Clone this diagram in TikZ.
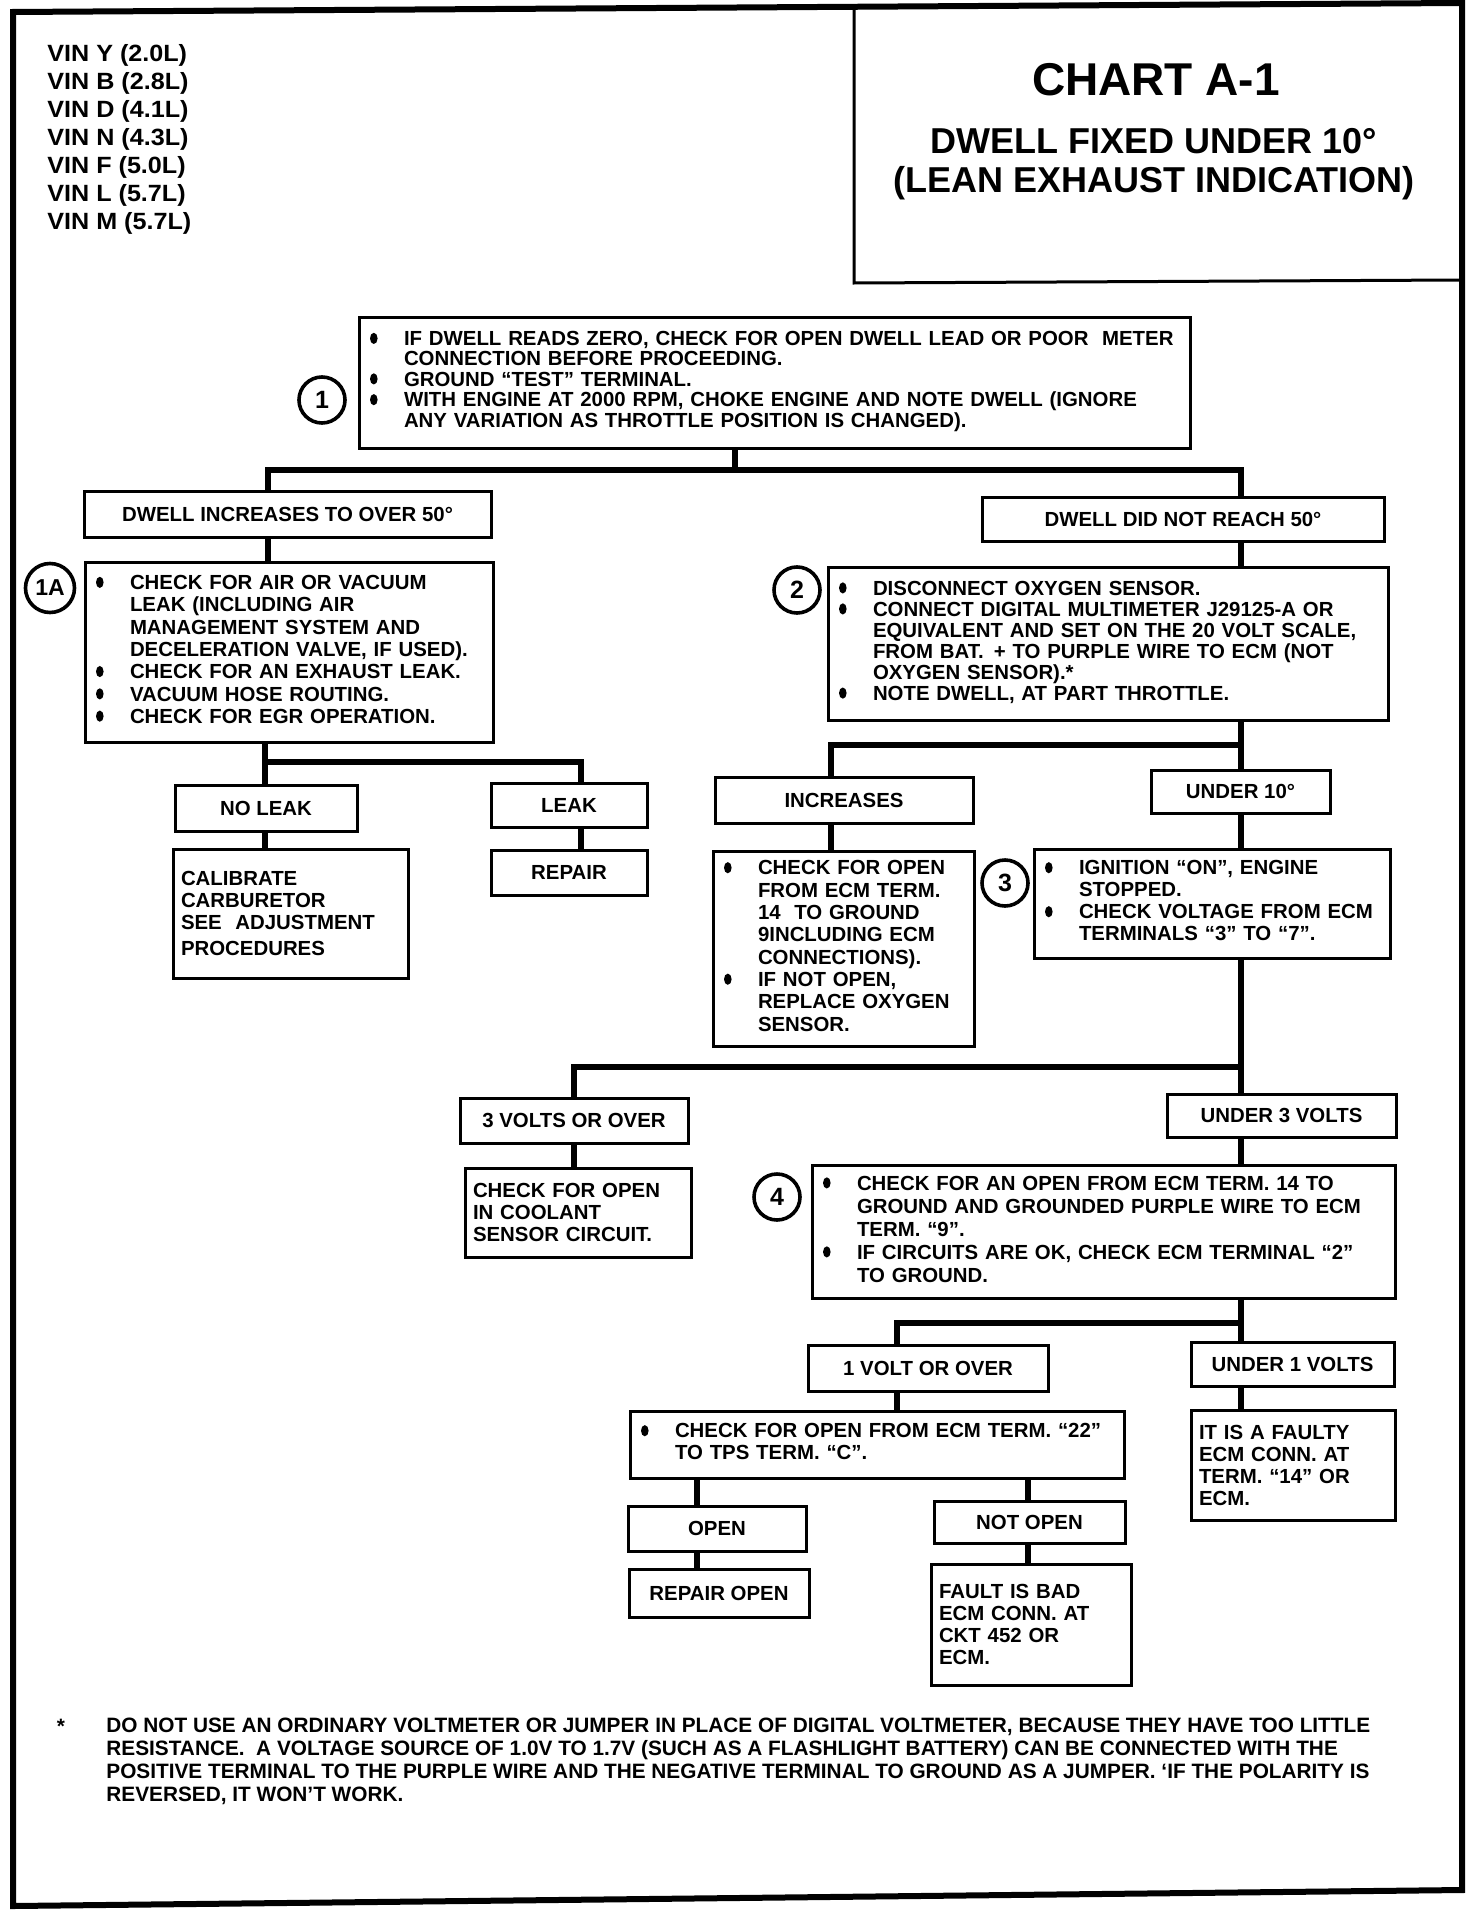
\documentclass[tikz,border=0pt]{standalone}
\usepackage{fontspec}
\setmainfont{Liberation Sans}
\newfontfamily\vinfont[FakeStretch=1.07]{Liberation Sans}
\newcommand\chfont[2]{\fontsize{#1}{#2}\selectfont\bfseries}
\newcommand\boxfont{\chfont{10.2}{11}}
\newcommand\bul{\makebox[18.5pt][l]{\hspace{1.5pt}\tikz[baseline=-3.6pt]\fill (1.9pt,0pt) ellipse [x radius=1.9pt, y radius=2.8pt];}}
\newcommand\blist[1]{\begin{tabular}{@{}l@{}l@{}}#1\end{tabular}}
\tikzset{
  box/.style={draw, line width=1.5pt, anchor=north west, inner xsep=4pt, inner ysep=0pt, outer sep=0pt, font=\boxfont},
  lbox/.style={box, align=left},
  cbox/.style={box, align=center},
  num/.style={draw, circle, line width=1.8pt, minimum size=23pt, inner sep=0pt, font=\chfont{12.5}{12.5}},
  conn/.style={line width=3pt},
}
\begin{document}
\begin{tikzpicture}[x=0.5pt,y=-0.5pt]
\useasboundingbox (0,0) rectangle (1472,1910);
\draw[line width=3pt] (13,12) -- (1462,3) -- (1462,1890) -- (13,1906) -- cycle;
\draw[line width=1.5pt] (854,8) -- (854,283) -- (1462,280);

\foreach \v [count=\i] in {Y (2.0L),B (2.8L),D (4.1L),N (4.3L),F (5.0L),L (5.7L),M (5.7L)}
  \node[anchor=base west, inner sep=0pt, font=\vinfont\chfont{11.75}{14}] (vin\i) at (47,33.5+28*\i) {VIN \v};

\node[font=\chfont{23}{23}] (chart) at (1156,80) {CHART A-1};
\node[align=center, font=\chfont{18}{19.5}] (sub) at (1154,164) {DWELL FIXED UNDER 10°\\(LEAN EXHAUST INDICATION)};

\node[lbox, text width=407.5pt, minimum height=65.5pt, font=\chfont{10.2}{10}] (one) at (359,317) {\blist{
\bul & IF DWELL READS ZERO, CHECK FOR OPEN DWELL LEAD OR POOR \ METER\\
 & CONNECTION BEFORE PROCEEDING.\\
\bul & GROUND “TEST” TERMINAL.\\
\bul & WITH ENGINE AT 2000 RPM, CHOKE ENGINE AND NOTE DWELL (IGNORE\\
 & ANY VARIATION AS THROTTLE POSITION IS CHANGED).}};
\node[num] (n1) at (322,400) {1};

\node[cbox, minimum width=203.5pt, minimum height=23pt] (incr50) at (84,491) {DWELL INCREASES TO OVER 50°};
\node[cbox, minimum width=201pt, minimum height=22pt] (notreach) at (982,497) {DWELL DID NOT REACH 50°};

\node[lbox, text width=196pt, minimum height=90pt, font=\chfont{10.2}{11.15}] (airleak) at (85,562) {\blist{
\bul & CHECK FOR AIR OR VACUUM\\
 & LEAK (INCLUDING AIR\\
 & MANAGEMENT SYSTEM AND\\
 & DECELERATION VALVE, IF USED).\\
\bul & CHECK FOR AN EXHAUST LEAK.\\
\bul & VACUUM HOSE ROUTING.\\
\bul & CHECK FOR EGR OPERATION.}};
\node[num, minimum size=24.5pt, font=\chfont{11.5}{11.5}] (n1a) at (50,588) {1A};

\node[lbox, text width=272pt, minimum height=76.5pt, font=\chfont{10.2}{10.5}] (oxsens) at (828,567) {\blist{
\bul & DISCONNECT OXYGEN SENSOR.\\
\bul & CONNECT DIGITAL MULTIMETER J29125-A OR\\
 & EQUIVALENT AND SET ON THE 20 VOLT SCALE,\\
 & FROM BAT. \,+ TO PURPLE WIRE TO ECM (NOT\\
 & OXYGEN SENSOR).*\\
\bul & NOTE DWELL, AT PART THROTTLE.}};
\node[num] (n2) at (797,590) {2};

\node[cbox, minimum width=91pt, minimum height=23pt] (noleak) at (175,785) {NO LEAK};
\node[cbox, minimum width=78pt, minimum height=22pt] (leak) at (491,783) {LEAK};
\node[cbox, minimum width=129pt, minimum height=23pt] (increases) at (715,777) {INCREASES};
\node[cbox, minimum width=89.5pt, minimum height=21.5pt] (under10) at (1151,770) {UNDER 10°};

\node[lbox, text width=109.5pt, minimum height=64.5pt] (calib) at (173,849) {CALIBRATE\\CARBURETOR\\SEE \ ADJUSTMENT\\[2pt]PROCEDURES};
\node[cbox, minimum width=78pt, minimum height=22.5pt] (repair) at (491,850) {REPAIR};

\node[lbox, text width=122.5pt, minimum height=97.5pt, font=\chfont{10.2}{11.15}] (o2chk) at (713,851) {\blist{
\bul & CHECK FOR OPEN\\
 & FROM ECM TERM.\\
 & 14 \ TO GROUND\\
 & 9INCLUDING ECM\\
 & CONNECTIONS).\\
\bul & IF NOT OPEN,\\
 & REPLACE OXYGEN\\
 & SENSOR.}};

\node[lbox, text width=170pt, minimum height=54.5pt] (ign) at (1034,849) {\blist{
\bul & IGNITION “ON”, ENGINE\\
 & STOPPED.\\
\bul & CHECK VOLTAGE FROM ECM\\
 & TERMINALS “3” TO “7”.}};
\node[num] (n3) at (1005,883) {3};

\node[cbox, minimum width=114pt, minimum height=22.5pt] (volts3) at (460,1098) {3 VOLTS OR OVER};
\node[cbox, minimum width=114.5pt, minimum height=21.5pt] (under3) at (1167,1094) {UNDER 3 VOLTS};

\node[lbox, text width=105pt, minimum height=44.5pt] (coolant) at (465,1168) {CHECK FOR OPEN\\IN COOLANT\\SENSOR CIRCUIT.};

\node[lbox, text width=283.5pt, minimum height=66.5pt, font=\chfont{10.2}{11.5}] (term14) at (812,1165) {\blist{
\bul & CHECK FOR AN OPEN FROM ECM TERM. 14 TO\\
 & GROUND AND GROUNDED PURPLE WIRE TO ECM\\
 & TERM. “9”.\\
\bul & IF CIRCUITS ARE OK, CHECK ECM TERMINAL “2”\\
 & TO GROUND.}};
\node[num] (n4) at (777,1197) {4};

\node[cbox, minimum width=120pt, minimum height=23pt] (volt1) at (808,1345) {1 VOLT OR OVER};
\node[cbox, minimum width=101.5pt, minimum height=22pt] (under1) at (1191,1342) {UNDER 1 VOLTS};

\node[lbox, text width=239pt, minimum height=33.5pt] (tps) at (630,1411) {\blist{
\bul & CHECK FOR OPEN FROM ECM TERM. “22”\\
 & TO TPS TERM. “C”.}};
\node[lbox, text width=94pt, minimum height=55pt] (faulty) at (1191,1410) {IT IS A FAULTY\\ECM CONN. AT\\TERM. “14” OR\\ECM.};

\node[cbox, minimum width=89pt, minimum height=22.5pt] (open) at (628,1506) {OPEN};
\node[cbox, minimum width=95.5pt, minimum height=21pt] (notopen) at (934,1501) {NOT OPEN};
\node[cbox, minimum width=90pt, minimum height=24pt] (repopen) at (629,1569) {REPAIR OPEN};
\node[lbox, text width=92pt, minimum height=60.5pt] (badconn) at (931,1564) {FAULT IS BAD\\ECM CONN. AT\\CKT 452 OR\\ECM.};

\coordinate (j1) at (735,470);
\coordinate (j1l) at (268,470);
\coordinate (j1r) at (1241,470);
\draw[conn] (one.south -| j1) -- (j1);
\draw[conn] (incr50.north -| j1l) -- (j1l) -- (j1r) -- (notreach.north -| j1r);
\draw[conn] (incr50.south -| j1l) -- (airleak.north -| j1l);
\draw[conn] (notreach.south -| j1r) -- (oxsens.north -| j1r);

\coordinate (j2l) at (265,762);
\coordinate (j2r) at (581,762);
\draw[conn] (airleak.south -| j2l) -- (noleak.north -| j2l);
\draw[conn] (j2l) -- (j2r) -- (leak.north -| j2r);
\draw[conn] (noleak.south -| j2l) -- (calib.north -| j2l);
\draw[conn] (leak.south -| j2r) -- (repair.north -| j2r);

\coordinate (j3l) at (831,745);
\coordinate (j3r) at (1241,745);
\draw[conn] (oxsens.south -| j3r) -- (under10.north -| j3r);
\draw[conn] (j3r) -- (j3l) -- (increases.north -| j3l);
\draw[conn] (increases.south -| j3l) -- (o2chk.north -| j3l);
\draw[conn] (under10.south -| j3r) -- (ign.north -| j3r);

\coordinate (j4l) at (574,1067);
\coordinate (j4r) at (1241,1067);
\draw[conn] (ign.south -| j4r) -- (under3.north -| j4r);
\draw[conn] (j4r) -- (j4l) -- (volts3.north -| j4l);
\draw[conn] (volts3.south -| j4l) -- (coolant.north -| j4l);
\draw[conn] (under3.south -| j4r) -- (term14.north -| j4r);

\coordinate (j5l) at (897,1323);
\coordinate (j5r) at (1241,1323);
\draw[conn] (term14.south -| j5r) -- (under1.north -| j5r);
\draw[conn] (j5r) -- (j5l) -- (volt1.north -| j5l);
\draw[conn] (volt1.south -| j5l) -- (tps.north -| j5l);
\draw[conn] (under1.south -| j5r) -- (faulty.north -| j5r);

\coordinate (j6l) at (697,1490);
\coordinate (j6r) at (1028,1490);
\draw[conn] (tps.south -| j6l) -- (open.north -| j6l);
\draw[conn] (tps.south -| j6r) -- (notopen.north -| j6r);
\draw[conn] (open.south -| j6l) -- (repopen.north -| j6l);
\draw[conn] (notopen.south -| j6r) -- (badconn.north -| j6r);

\node[anchor=base, inner sep=0pt, font=\chfont{10.4}{11}] (star) at (61,1733) {*};
\node[anchor=north west, inner sep=0pt, align=left, font=\chfont{10.4}{11.35}] (note) at (106,1718) {DO NOT USE AN ORDINARY VOLTMETER OR JUMPER IN PLACE OF DIGITAL VOLTMETER, BECAUSE THEY HAVE TOO LITTLE\\
RESISTANCE. \ A VOLTAGE SOURCE OF 1.0V TO 1.7V (SUCH AS A FLASHLIGHT BATTERY) CAN BE CONNECTED WITH THE\\
POSITIVE TERMINAL TO THE PURPLE WIRE AND THE NEGATIVE TERMINAL TO GROUND AS A JUMPER. ‘IF THE POLARITY IS\\
REVERSED, IT WON’T WORK.};
\end{tikzpicture}
\end{document}
